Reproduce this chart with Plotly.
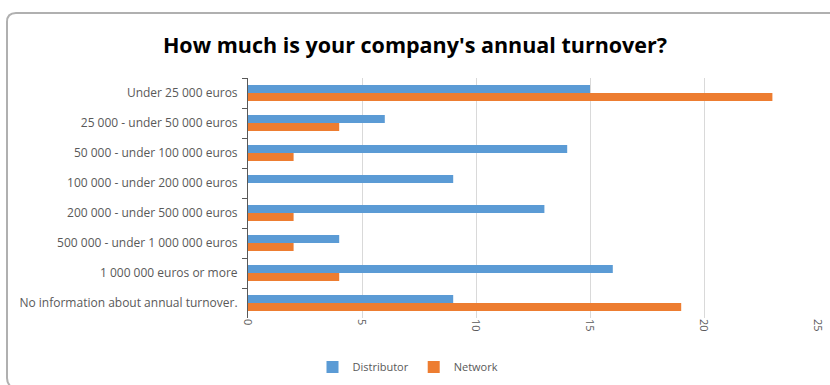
import plotly.graph_objects as go

categories = [
    "Under 25 000 euros",
    "25 000 - under 50 000 euros",
    "50 000 - under 100 000 euros",
    "100 000 - under 200 000 euros",
    "200 000 - under 500 000 euros",
    "500 000 - under 1 000 000 euros",
    "1 000 000 euros or more",
    "No information about annual turnover.",
]
distributor = [15, 6, 14, 9, 13, 4, 16, 9]
network = [23, 4, 2, 0, 2, 2, 4, 19]
x_ticks = [0, 5, 10, 15, 20, 25]

fig = go.Figure()
fig.add_trace(go.Bar(y=categories, x=distributor, orientation="h", name="Distributor",
                     marker=dict(color="#5B9BD5", line=dict(width=0))))
fig.add_trace(go.Bar(y=categories, x=network, orientation="h", name="Network",
                     marker=dict(color="#ED7D31", line=dict(width=0))))

W, H = 830, 385
ml, mr, mt, mb = 248, 12, 78, 67
pw, ph = W - ml - mr, H - mt - mb

def px_x(p):
    return (p - ml) / pw

def px_y(p):
    return 1 - (p - mt) / ph

# rounded border (top and left edges, as in the reference) in paper coords
def P(x, y):
    return f"{px_x(x):.5f},{px_y(y):.5f}"
path = (f"M {P(832, 13)} L {P(16, 13)} Q {P(7, 13)} {P(7, 22)} "
        f"L {P(7, 378)} Q {P(7, 383)} {P(11, 387)}")

fig.update_layout(
    width=W, height=H,
    margin=dict(l=ml, r=mr, t=mt, b=mb, autoexpand=False),
    paper_bgcolor="white", plot_bgcolor="white",
    barmode="group", bargap=0.46, bargroupgap=0,
    title=dict(text="<b>How much is your company's annual turnover?</b>",
               x=0.5, xref="container", xanchor="center", y=1 - 45 / H, yanchor="middle",
               font=dict(family="Open Sans", size=21.5, color="#000000")),
    font=dict(family="Open Sans", color="#595959"),
    legend=dict(orientation="h", x=(408 - ml) / pw, xanchor="center",
                y=px_y(367), yanchor="middle", font=dict(size=11, color="#595959"),
                itemwidth=30, traceorder="normal"),
    shapes=[dict(type="path", path=path, xref="paper", yref="paper",
                 line=dict(color="#B0B0B0", width=2), layer="below")],
)
fig.update_xaxes(range=[0, 25], tickvals=x_ticks, ticktext=[str(v) for v in x_ticks],
                 tickangle=90, showgrid=True, gridcolor="#D9D9D9", gridwidth=1,
                 zeroline=False, showline=False, ticks="", automargin=False,
                 tickfont=dict(size=11, color="#595959"))
fig.update_yaxes(autorange="reversed", showline=True, linecolor="#595959", linewidth=1,
                 ticks="outside", ticklen=5, tickcolor="#595959", tickson="boundaries",
                 ticklabelstandoff=7, automargin=False,
                 tickfont=dict(size=12, color="#595959"))

fig.write_html("out.html", config={"displayModeBar": False},
               post_script="document.body.style.margin='0';")
